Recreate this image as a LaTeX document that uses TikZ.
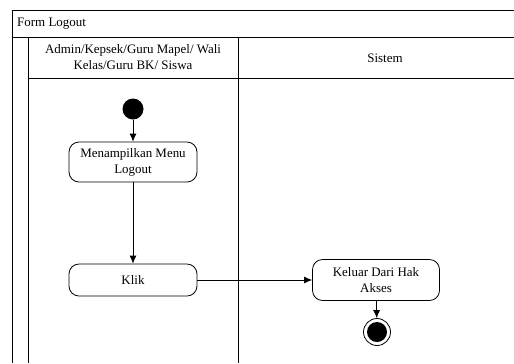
\documentclass[tikz,border=0pt]{standalone}
\usepackage{fontspec}
\setmainfont{Liberation Serif}
\usetikzlibrary{arrows.meta}
\def\LaneFont{\fontsize{13}{16}\selectfont}

\begin{document}
\begin{tikzpicture}
    [x=1bp,y=-1bp,
     act/.style={rectangle,rounded corners=10bp,draw,thick,align=center,font=\LaneFont,minimum width=128bp,inner sep=2bp},
     lbl/.style={align=center,font=\LaneFont,inner sep=0pt},
     startnode/.style={circle,fill=black,minimum size=21bp,inner sep=0pt},
     endnode/.style={circle,draw,thick,minimum size=27bp,inner sep=0pt,
       path picture={\fill (path picture bounding box.center) circle (10bp);}},
    ]
    \useasboundingbox (0,0) rectangle (514,363);
    % frame and swimlanes
    \draw[thick] (514,10) -- (12,10) -- (12,363);
    \draw[thick] (12,37) -- (514,37);
    \draw[thick] (28,37) -- (28,363) (238,37) -- (238,363);
    \draw[thick] (28,78) -- (514,78);
    \node[lbl,anchor=west] (title) at (17,24) {Form Logout};
    \node[lbl] (lane1) at (133,57) {Admin/Kepsek/Guru Mapel/ Wali\\Kelas/Guru BK/ Siswa};
    \node[lbl] (lane2) at (385,58) {Sistem};
    % activities
    \node[startnode] (start) at (133,109) {};
    \node[act,minimum height=40bp] (menu) at (133,162) {Menampilkan Menu\\Logout};
    \node[act,minimum height=32bp] (klik) at (133,280) {Klik};
    \node[act,minimum height=41bp,minimum width=127bp] (keluar) at (376,280) {Keluar Dari Hak\\Akses};
    \node[endnode] (end) at (377,332) {};
    \path[-{Latex[length=8bp,width=7bp]}, thick] (start) edge (menu) (menu) edge (klik)
    (klik) edge (keluar) (keluar) edge (end);
  \end{tikzpicture}
\end{document}
